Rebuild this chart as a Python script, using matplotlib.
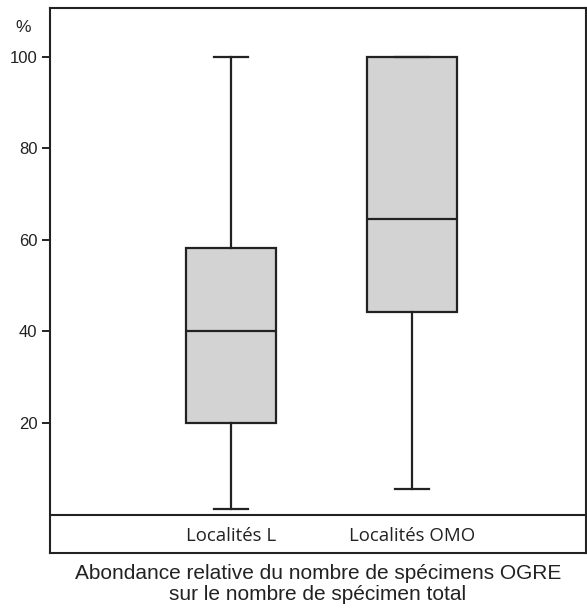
# Box plot: relative abundance of OGRE specimens per locality group

import matplotlib
matplotlib.use('Agg')
import matplotlib.pyplot as plt

categories = ['Localités L', 'Localités OMO']
whis_low = [1.2, 5.5]
q1 = [20, 44.2]
median = [40, 64.5]
q3 = [58.3, 100]
whis_high = [100, 100]
yticks = [20, 40, 60, 80, 100]

stats = []
for i in range(len(categories)):
    stats.append({'label': categories[i], 'whislo': whis_low[i], 'q1': q1[i],
                  'med': median[i], 'q3': q3[i], 'whishi': whis_high[i],
                  'fliers': []})

fig = plt.figure(figsize=(5.87, 6.08), dpi=100)
ax = fig.add_axes([0.0852, 0.0905, 0.913, 0.8964])

line_col = '#222222'
lw = 1.6
ax.bxp(stats, positions=[1, 2], widths=0.5, patch_artist=True, showfliers=False,
       boxprops=dict(facecolor='#d3d3d3', edgecolor=line_col, linewidth=lw),
       medianprops=dict(color=line_col, linewidth=lw),
       whiskerprops=dict(color=line_col, linewidth=lw),
       capprops=dict(color=line_col, linewidth=lw),
       capwidths=0.19)

ax.axhline(0, color=line_col, linewidth=1.5)
ax.set_xlim(0.0, 2.96)
ax.set_ylim(-8.4, 110.7)

ax.set_yticks(yticks)
ax.set_yticklabels([str(v) for v in yticks], fontsize=12, family='Liberation Sans',
                   color='#222222')
ax.tick_params(axis='y', direction='out', length=6, width=1.4, color=line_col, pad=3)
ax.set_xticks([])

for pos, lab in zip([1, 2], categories):
    ax.text(pos, -4.6, lab, ha='center', va='center', fontsize=13.4,
            family='Open Sans', color='#222222')

ax.text(-0.0506, 0.965, '%', transform=ax.transAxes, ha='center', va='center',
        fontsize=12.5, family='Liberation Sans', color='#222222')

ax.set_xlabel('Abondance relative du nombre de spécimens OGRE\nsur le nombre de spécimen total',
              fontsize=15, family='Liberation Sans', color='#222222', labelpad=8,
              linespacing=1.15)

for s in ax.spines.values():
    s.set_linewidth(1.5)
    s.set_color(line_col)

fig.savefig('out.png', dpi=100)
